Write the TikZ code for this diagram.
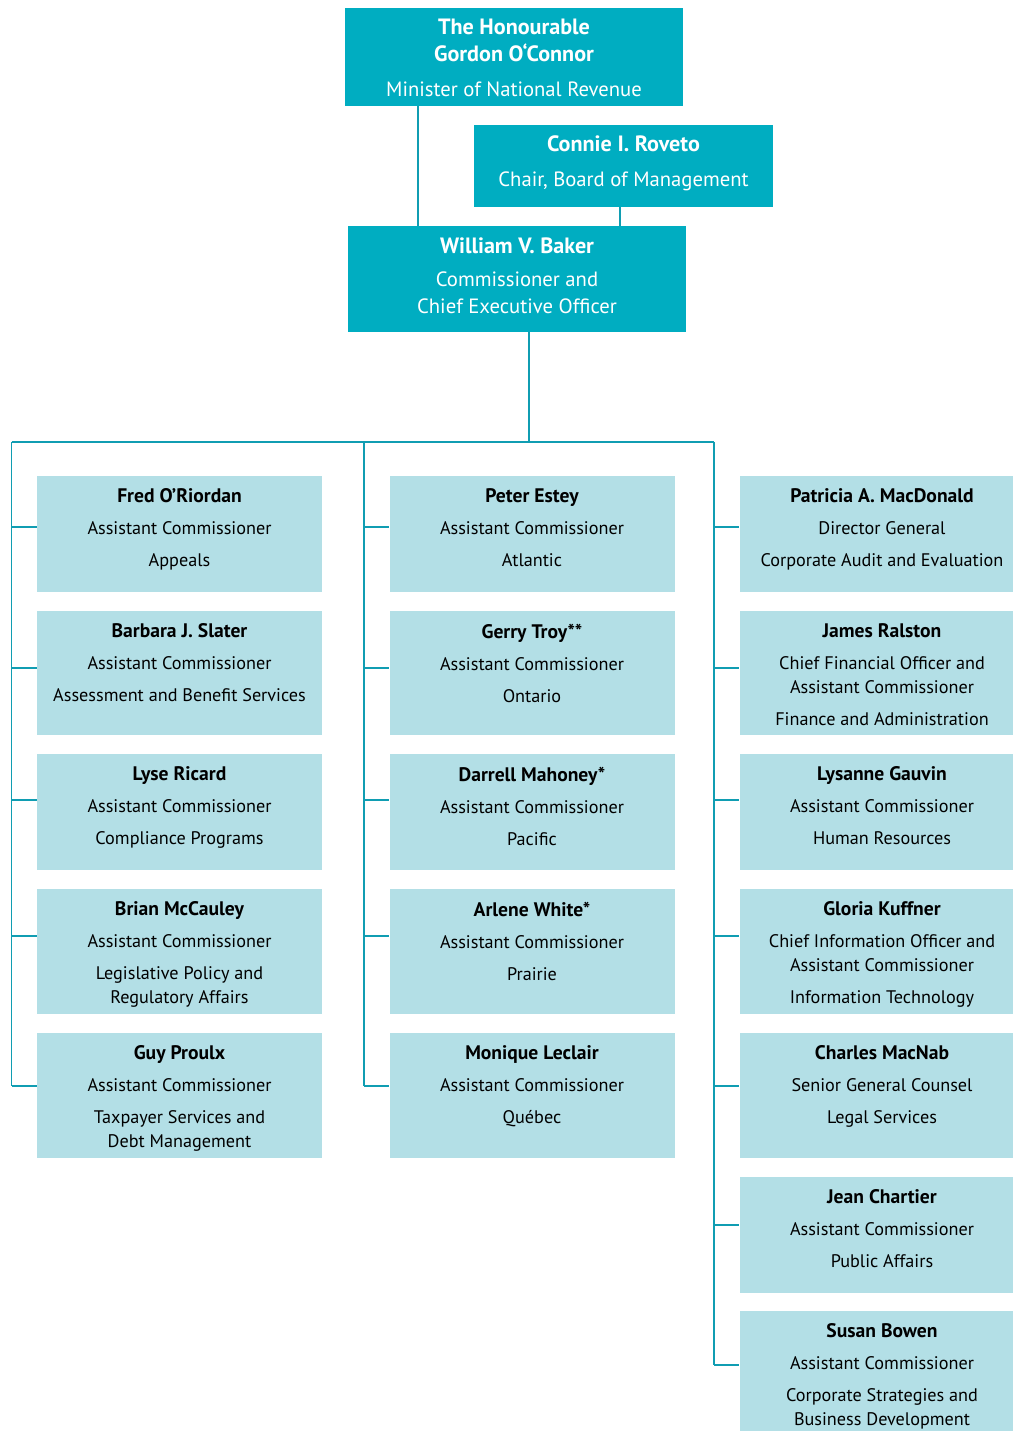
\documentclass[tikz,border=0pt]{standalone}
\usepackage{fontspec}
\setmainfont{PT Sans}
\usetikzlibrary{positioning}
\definecolor{headfill}{HTML}{00ADC1}
\definecolor{postfill}{HTML}{B3DFE6}
\definecolor{rulecol}{HTML}{109DB2}
\tikzset{
  headbox/.style={fill=headfill, inner sep=0pt},
  headtext/.style={align=center, inner sep=0pt, text=white,
    font=\fontsize{15.5}{20.25}\selectfont},
  postbox/.style={fill=postfill, inner sep=0pt, minimum width=213.75pt},
  posttext/.style={align=center, inner sep=0pt,
    font=\fontsize{13.65}{18}\selectfont},
  link/.style={draw=rulecol, line width=0.8pt}
}
% names in bold, a little larger
\newcommand*{\who}[1]{{\fontsize{14.7}{18}\selectfont\bfseries #1}}
\newcommand*{\chief}[1]{{\fontsize{16.6}{20.25}\selectfont\bfseries #1}}
% #1 name, #2 column line x, #3 top, #4 height, #5 stub y, #6 text
\newcommand*{\post}[6]
  {\node[postbox, minimum height={#4*0.75pt}] (#1) at ({#2+168},{#3+#4/2}) {};
   \coordinate (s-#1) at (#2,#5);
   \draw[link] (s-#1) -- (s-#1 -| #1.west);
   \node[posttext, below=9.5pt of #1.north] (#1-t) {#6};}

\begin{document}
\begin{tikzpicture}[x=0.75pt,y=-0.75pt]
\clip (0,0) rectangle (1013,1431);

% top of the chart
\node[headbox, minimum width={338*0.75pt}, minimum height={98*0.75pt}] (minister) at (514,57) {};
\node[headtext, below=8.5pt of minister.north] (minister-t)
  {\chief{The Honourable}\\[-0.5pt]\chief{Gordon O‘Connor}\\[6pt]Minister of National Revenue};
\node[headbox, minimum width={299*0.75pt}, minimum height={82*0.75pt}] (chair) at (623.5,166) {};
\node[headtext, below=8pt of chair.north] (chair-t)
  {\chief{Connie I. Roveto}\\[6pt]Chair, Board of Management};
\node[headbox, minimum width={338*0.75pt}, minimum height={106*0.75pt}] (ceo) at (517,279) {};
\node[headtext, below=8.5pt of ceo.north] (ceo-t)
  {\chief{William V. Baker}\\[4.5pt]Commissioner and\\Chief Executive Officer};

\coordinate (m-foot) at (418,106);
\coordinate (c-foot) at (620,207);
\coordinate (e-foot) at (529,332);
\coordinate (bus) at (529,442);
\draw[link] (m-foot) -- (m-foot |- ceo.north);
\draw[link] (c-foot) -- (c-foot |- ceo.north);
\draw[link] (e-foot) -- (bus);

% first column
\post{fred}{11.5}{476}{116}{527}{\who{Fred O’Riordan}\\[6pt]Assistant Commissioner\\[6pt]Appeals}
\post{barbara}{11.5}{611}{124}{668}{\who{Barbara J. Slater}\\[6pt]Assistant Commissioner\\[6pt]Assessment and Benefit Services}
\post{lyse}{11.5}{754}{116}{800}{\who{Lyse Ricard}\\[6pt]Assistant Commissioner\\[6pt]Compliance Programs}
\post{brian}{11.5}{889}{125}{936}{\who{Brian McCauley}\\[6pt]Assistant Commissioner\\[6pt]Legislative Policy and\\Regulatory Affairs}
\post{guy}{11.5}{1033}{125}{1086}{\who{Guy Proulx}\\[6pt]Assistant Commissioner\\[6pt]Taxpayer Services and\\Debt Management}

% second column
\post{peter}{364}{476}{116}{527}{\who{Peter Estey}\\[6pt]Assistant Commissioner\\[6pt]Atlantic}
\post{gerry}{364}{611}{124}{668}{\who{Gerry Troy**}\\[6pt]Assistant Commissioner\\[6pt]Ontario}
\post{darrell}{364}{754}{116}{800}{\who{Darrell Mahoney*}\\[6pt]Assistant Commissioner\\[6pt]Pacific}
\post{arlene}{364}{889}{125}{936}{\who{Arlene White*}\\[6pt]Assistant Commissioner\\[6pt]Prairie}
\post{monique}{364}{1033}{125}{1086}{\who{Monique Leclair}\\[6pt]Assistant Commissioner\\[6pt]Québec}

% third column
\post{patricia}{714}{476}{116}{527}{\who{Patricia A. MacDonald}\\[6pt]Director General\\[6pt]Corporate Audit and Evaluation}
\post{james}{714}{611}{124}{668}{\who{James Ralston}\\[6pt]Chief Financial Officer and\\Assistant Commissioner\\[6pt]Finance and Administration}
\post{lysanne}{714}{754}{116}{800}{\who{Lysanne Gauvin}\\[6pt]Assistant Commissioner\\[6pt]Human Resources}
\post{gloria}{714}{889}{125}{936}{\who{Gloria Kuffner}\\[6pt]Chief Information Officer and\\Assistant Commissioner\\[6pt]Information Technology}
\post{charles}{714}{1033}{125}{1086}{\who{Charles MacNab}\\[6pt]Senior General Counsel\\[6pt]Legal Services}
\post{jean}{714}{1177}{116}{1225}{\who{Jean Chartier}\\[6pt]Assistant Commissioner\\[6pt]Public Affairs}
\post{susan}{714}{1311}{124}{1365}{\who{Susan Bowen}\\[6pt]Assistant Commissioner\\[6pt]Corporate Strategies and\\Business Development}

% branch lines
\coordinate (c1) at (11.5,442);
\coordinate (c2) at (364,442);
\coordinate (c3) at (714,442);
\draw[link] (c1) -- (c3);
\draw[link] (c1) -- (s-guy);
\draw[link] (c2) -- (s-monique);
\draw[link] (c3) -- (s-susan);
\end{tikzpicture}
\end{document}
